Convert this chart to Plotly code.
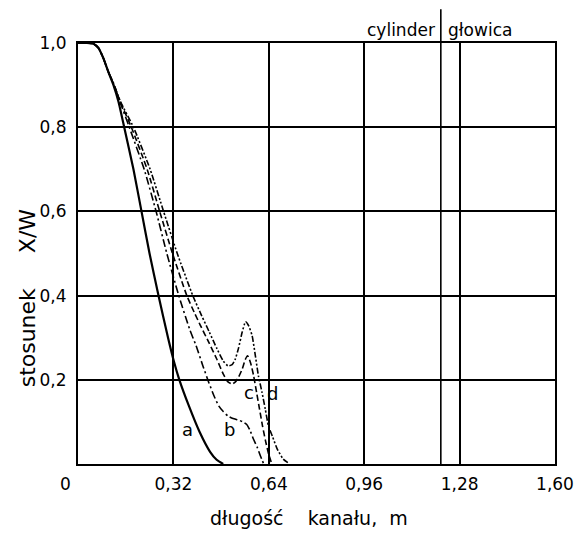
import plotly.graph_objects as go

# ---- data ----
a_x = [0, 0.03, 0.052, 0.069, 0.085, 0.102, 0.119, 0.136, 0.155, 0.186, 0.213, 0.240, 0.270, 0.302,
       0.322, 0.340, 0.372, 0.408, 0.443, 0.465, 0.487]
a_y = [1.0, 1.0, 0.998, 0.988, 0.964, 0.931, 0.900, 0.860, 0.80, 0.70, 0.60, 0.50, 0.40, 0.30,
       0.243, 0.20, 0.138, 0.076, 0.029, 0.01, 0.0]

b_x = [0, 0.03, 0.052, 0.069, 0.085, 0.102, 0.119, 0.141, 0.172, 0.222, 0.262, 0.298, 0.338, 0.374,
       0.396, 0.419, 0.438, 0.456, 0.472, 0.488, 0.503, 0.52, 0.54, 0.553, 0.566, 0.577, 0.588, 0.601, 0.612, 0.623]
b_y = [1.0, 1.0, 0.998, 0.988, 0.964, 0.931, 0.905, 0.86, 0.80, 0.70, 0.60, 0.50, 0.40, 0.321,
       0.281, 0.233, 0.195, 0.162, 0.138, 0.124, 0.114, 0.108, 0.104, 0.10, 0.094, 0.08, 0.06, 0.04, 0.019, 0.0]

c_x = [0, 0.03, 0.052, 0.069, 0.085, 0.102, 0.118, 0.142, 0.179, 0.232, 0.274, 0.317, 0.365, 0.39,
       0.41, 0.438, 0.465, 0.487, 0.503, 0.517, 0.528, 0.539, 0.551, 0.561, 0.569, 0.579, 0.589, 0.599,
       0.609, 0.619, 0.629, 0.639, 0.65]
c_y = [1.0, 1.0, 0.998, 0.988, 0.964, 0.931, 0.905, 0.86, 0.80, 0.70, 0.60, 0.50, 0.40, 0.36,
       0.33, 0.29, 0.25, 0.214, 0.195, 0.19, 0.195, 0.207, 0.226, 0.248, 0.257, 0.24, 0.21, 0.17,
       0.13, 0.09, 0.055, 0.025, 0.0]

d_x = [0, 0.03, 0.052, 0.069, 0.085, 0.102, 0.118, 0.143, 0.186, 0.242, 0.287, 0.333, 0.385, 0.415,
       0.44, 0.466, 0.487, 0.503, 0.517, 0.527, 0.538, 0.551, 0.562, 0.572, 0.584, 0.595, 0.605, 0.617,
       0.628, 0.639, 0.653, 0.668, 0.688, 0.71]
d_y = [1.0, 1.0, 0.998, 0.988, 0.964, 0.931, 0.905, 0.86, 0.80, 0.70, 0.60, 0.50, 0.40, 0.352,
       0.314, 0.274, 0.245, 0.233, 0.236, 0.248, 0.274, 0.314, 0.338, 0.329, 0.305, 0.257, 0.21, 0.171,
       0.131, 0.09, 0.064, 0.036, 0.012, 0.0]

curve_labels = ["a", "b", "c", "d"]
label_x = [0.368, 0.509, 0.572, 0.653]
label_y = [0.083, 0.083, 0.169, 0.167]

x_tickvals = [0.32, 0.64, 0.96, 1.28, 1.60]
x_ticktext = ["0,32", "0,64", "0,96", "1,28", "1,60"]
y_tickvals = [0.2, 0.4, 0.6, 0.8, 1.0]
y_ticktext = ["0,2", "0,4", "0,6", "0,8", "1,0"]
x_zero_label = "0"

divider_x = 1.217
zone_labels = ["cylinder", "głowica"]

x_title = "długość    kanału,  m"
y_title = "stosunek     X/W"

# ---- figure ----
FONT = "DejaVu Sans"
fig = go.Figure()

styles = [
    dict(width=2.2, dash="solid"),
    dict(width=1.6, dash="8px,3px,2px,3px"),
    dict(width=1.6, dash="6px,3px"),
    dict(width=1.6, dash="6px,2px,2px,2px,2px,2px"),
]
for (xs, ys), st in zip([(a_x, a_y), (b_x, b_y), (c_x, c_y), (d_x, d_y)], styles):
    fig.add_trace(go.Scatter(x=xs, y=ys, mode="lines",
                             line=dict(color="black", shape="spline", smoothing=0.5, **st),
                             showlegend=False, hoverinfo="skip"))

for t, lx, ly in zip(curve_labels, label_x, label_y):
    fig.add_annotation(x=lx, y=ly, text=t, showarrow=False,
                       font=dict(family=FONT, size=18, color="black"))

# divider cylinder | glowica
fig.add_shape(type="line", xref="x", yref="paper", x0=divider_x, x1=divider_x, y0=0, y1=1.08,
              line=dict(color="black", width=1.6))
fig.add_annotation(x=divider_x, xref="x", y=1.059, yref="paper", text=zone_labels[0],
                   xanchor="right", xshift=-4, showarrow=False,
                   font=dict(family=FONT, size=17, color="black"))
fig.add_annotation(x=divider_x, xref="x", y=1.059, yref="paper", text=zone_labels[1],
                   xanchor="left", xshift=5, showarrow=False,
                   font=dict(family=FONT, size=17, color="black"))

# "0" label at origin (placed left of axis as in reference)
fig.add_annotation(x=-0.026, xref="paper", y=-0.0475, yref="paper", text=x_zero_label, showarrow=False,
                   xanchor="center", yanchor="middle",
                   font=dict(family=FONT, size=17, color="black"))

# axis titles
fig.add_annotation(x=0.484, xref="paper", y=-0.128, yref="paper", text=x_title, showarrow=False,
                   xanchor="center", yanchor="middle", font=dict(family=FONT, size=19, color="black"))
fig.add_annotation(x=-0.1056, xref="paper", y=0.395, yref="paper", text=y_title, showarrow=False,
                   textangle=-90, xanchor="center", yanchor="middle",
                   font=dict(family=FONT, size=22, color="black"))

# page body has an 8px margin, so the figure is shrunk and margins shifted to compensate
fig.update_layout(
    width=574, height=527,
    margin=dict(l=69.5, r=26.5, t=35, b=71, autoexpand=False),
    paper_bgcolor="white", plot_bgcolor="white",
    font=dict(family=FONT, size=17, color="black"),
    xaxis=dict(range=[0, 1.6], tickvals=x_tickvals, ticktext=x_ticktext, automargin=False,
               showgrid=True, gridcolor="black", gridwidth=1.8,
               showline=True, linecolor="black", linewidth=2, mirror=True,
               ticks="", zeroline=False, ticklabelstandoff=4),
    yaxis=dict(range=[0, 1.0], tickvals=y_tickvals, ticktext=y_ticktext, automargin=False,
               showgrid=True, gridcolor="black", gridwidth=1.8,
               showline=True, linecolor="black", linewidth=2, mirror=True,
               ticks="", zeroline=False, ticklabelstandoff=6),
)

fig.write_html("out.html")
